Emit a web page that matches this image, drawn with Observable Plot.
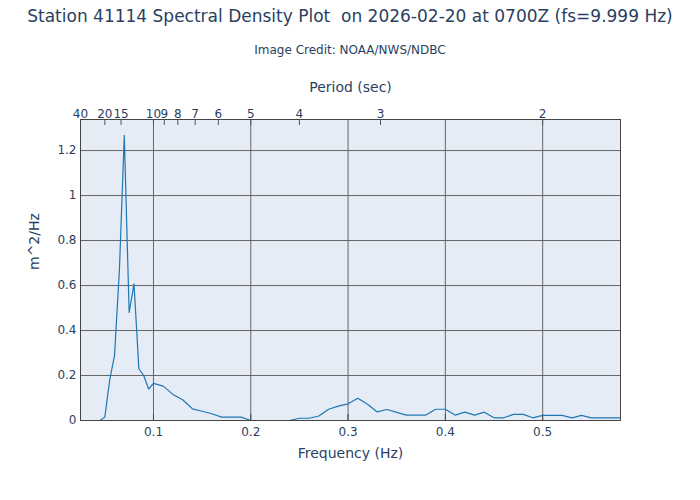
<!DOCTYPE html>
<html><head><meta charset="utf-8">
<script src="https://cdn.jsdelivr.net/npm/d3@7"></script>
<script src="https://cdn.jsdelivr.net/npm/@observablehq/plot@0.6"></script>
<style>
body{margin:0;background:#fff;font-family:"DejaVu Sans",sans-serif;color:#2a3f5f}
#wrap{position:relative;width:700px;height:500px}
#chart{position:absolute;left:0;top:0}
#title{position:absolute;left:0;top:0;width:700px;text-align:center;font-size:17px;line-height:32px;white-space:pre}
#sub{position:absolute;left:0;top:40px;width:700px;text-align:center;font-size:12px;line-height:20px}
</style></head><body>
<div id="wrap"><div id="chart"></div>
<div id="title">Station 41114 Spectral Density Plot  on 2026-02-20 at 0700Z (fs=9.999 Hz)</div>
<div id="sub">Image Credit: NOAA/NWS/NDBC</div></div>
<script>
const freqs = [0.025,0.03,0.035,0.04,0.045,0.05,0.055,0.06,0.065,0.07,0.075,0.08,0.085,0.09,0.095,
  0.10,0.11,0.12,0.13,0.14,0.15,0.16,0.17,0.18,0.19,0.20,0.21,0.22,0.23,0.24,0.25,0.26,0.27,0.28,0.29,
  0.30,0.31,0.32,0.33,0.34,0.35,0.36,0.37,0.38,0.39,0.40,0.41,0.42,0.43,0.44,0.45,0.46,0.47,0.48,0.49,
  0.50,0.51,0.52,0.53,0.54,0.55,0.56,0.57,0.58];
const density = [0,0,0,0,0,0.015,0.18,0.29,0.67,1.267,0.48,0.607,0.23,0.20,0.14,
  0.165,0.153,0.116,0.092,0.052,0.041,0.03,0.015,0.015,0.015,0,0,0,0,0,0.01,0.01,0.02,0.05,0.064,
  0.074,0.099,0.072,0.038,0.049,0.036,0.024,0.024,0.024,0.05,0.05,0.024,0.037,0.024,0.037,0.012,0.012,0.027,0.027,0.012,
  0.023,0.023,0.023,0.012,0.023,0.012,0.012,0.012,0.012];
const periodTicks = [40,20,15,10,9,8,7,6,5,4,3,2];
const freqTicks = [0.1,0.2,0.3,0.4,0.5];
const densityTicks = [0,0.2,0.4,0.6,0.8,1,1.2];
const freqDomain = [0.025, 0.58];
const densityDomain = [0, 1.338];

const rows = freqs.map((f, i) => ({f, v: density[i]}));
const periodFreqs = periodTicks.map(p => 1 / p);
const plain = d => String(d);

const chart = Plot.plot({
  width: 700, height: 500,
  marginTop: 119, marginBottom: 80, marginLeft: 80, marginRight: 80,
  style: {fontFamily: "DejaVu Sans", fontSize: "12px", color: "#2a3f5f", background: "transparent", overflow: "visible"},
  x: {domain: freqDomain},
  y: {domain: densityDomain},
  marks: [
    Plot.frame({fill: "#e5ecf6", stroke: "none"}),
    Plot.gridY({ticks: densityTicks, stroke: "#666", strokeOpacity: 1}),
    Plot.gridX({ticks: freqTicks, stroke: "#666", strokeOpacity: 1}),
    Plot.ruleX(periodFreqs, {stroke: "#555", insetBottom: 295}),
    Plot.ruleX(freqTicks, {stroke: "#444", insetTop: 295}),
    Plot.line(rows, {x: "f", y: "v", stroke: "#1f77b4", strokeWidth: 1.2}),
    Plot.frame({stroke: "#444"}),
    Plot.axisY({ticks: densityTicks, tickSize: 0, tickPadding: 4, label: null, tickFormat: plain}),
    Plot.axisX({anchor: "bottom", ticks: freqTicks, tickSize: 0, tickPadding: 7, label: null, tickFormat: plain}),
    Plot.axisX({anchor: "top", ticks: periodFreqs, tickSize: 0, tickPadding: 2, label: null,
      tickFormat: f => String(Math.round(1 / f))}),
    Plot.text(["Period (sec)"], {frameAnchor: "top", lineAnchor: "middle", dy: -32, fontSize: 14}),
    Plot.text(["Frequency (Hz)"], {frameAnchor: "bottom", lineAnchor: "middle", dy: 33, fontSize: 14}),
    Plot.text(["m^2/Hz"], {frameAnchor: "left", lineAnchor: "middle", dx: -46, rotate: -90, fontSize: 14})
  ]
});
document.getElementById("chart").appendChild(chart);
</script>
</body></html>
